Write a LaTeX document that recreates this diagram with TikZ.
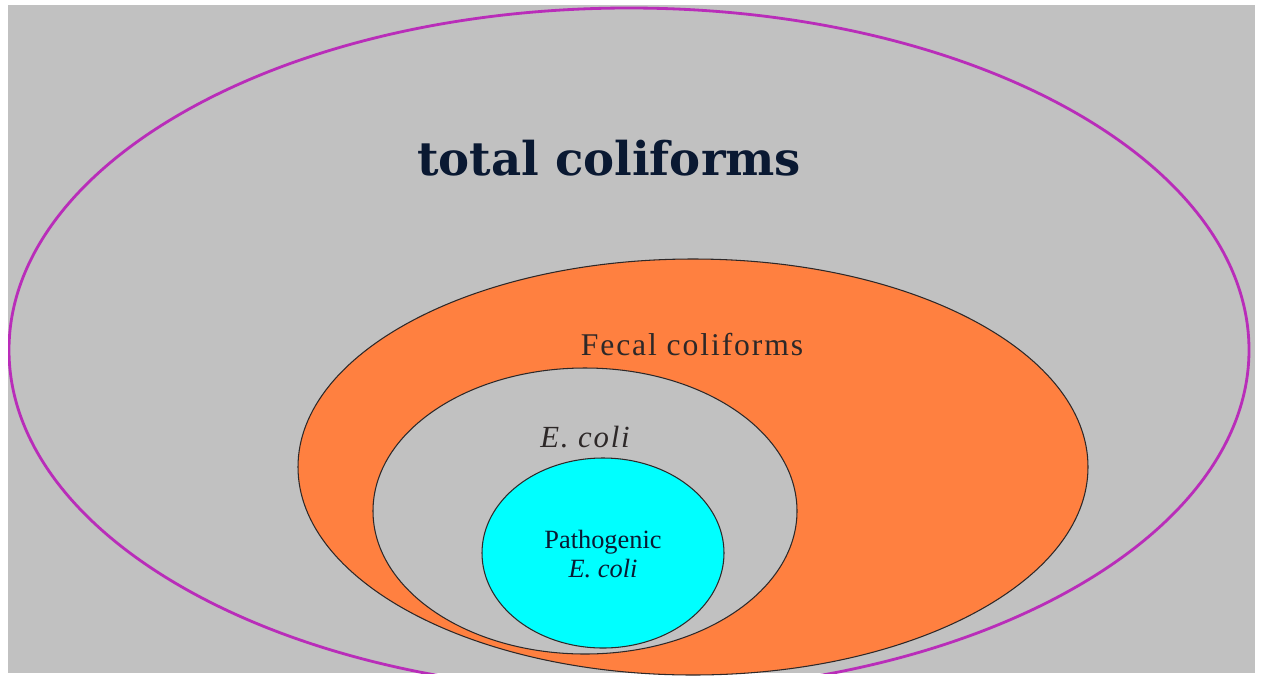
\documentclass[tikz,border=0pt]{standalone}
\usepackage{fontspec}
\setmainfont{Liberation Serif}
\newfontfamily\headfont{DejaVu Serif}
\definecolor{bggray}{RGB}{193,193,193}
\definecolor{rimpink}{RGB}{185,45,185}
\definecolor{fecal}{RGB}{255,128,64}
\definecolor{patho}{RGB}{0,255,255}
\definecolor{inkdark}{RGB}{45,40,40}
\definecolor{inknavy}{RGB}{10,25,50}
\begin{document}
\begin{tikzpicture}[x=0.02cm, y=-0.02cm, line join=round, line cap=round]
			\def\xmin{0} \def\xmax{1261}
			\def\ymin{0} \def\ymax{680}
			\useasboundingbox (\xmin,\ymin) rectangle (\xmax,\ymax);
			\fill[white] (\xmin,\ymin) rectangle (\xmax,\ymax);
			\fill[bggray] (8,5) rectangle (1255,673);
			\begin{scope}
				\clip (8,5) rectangle (1255,673);
				\draw[rimpink, line width=1.6pt] (629,350) ellipse [x radius=620, y radius=342];
			\end{scope}
			\draw[inkdark, fill=fecal, line width=0.6pt] (693,467) ellipse [x radius=395, y radius=208];
			\draw[inkdark, fill=bggray, line width=0.6pt] (585,511) ellipse [x radius=212, y radius=143];
			\draw[inkdark, fill=patho, line width=0.6pt] (603,553) ellipse [x radius=121, y radius=95];
			\node[inknavy, font=\headfont\bfseries\fontsize{26.5}{30}\selectfont] (total) at (609,158) {total coliforms};
			\node[inkdark, font=\addfontfeature{LetterSpace=6}\fontsize{18}{20}\selectfont] (fecalname) at (692,345) {Fecal coliforms};
			\node[inkdark, font=\itshape\addfontfeature{LetterSpace=6}\fontsize{17.5}{20}\selectfont] (ecoliname) at (585,437) {E. coli};
			\node[inknavy, font=\fontsize{15}{17}\selectfont, align=center] (pathoname) at (603,554) {Pathogenic\\\textit{E. coli}};
		\end{tikzpicture}
\end{document}
